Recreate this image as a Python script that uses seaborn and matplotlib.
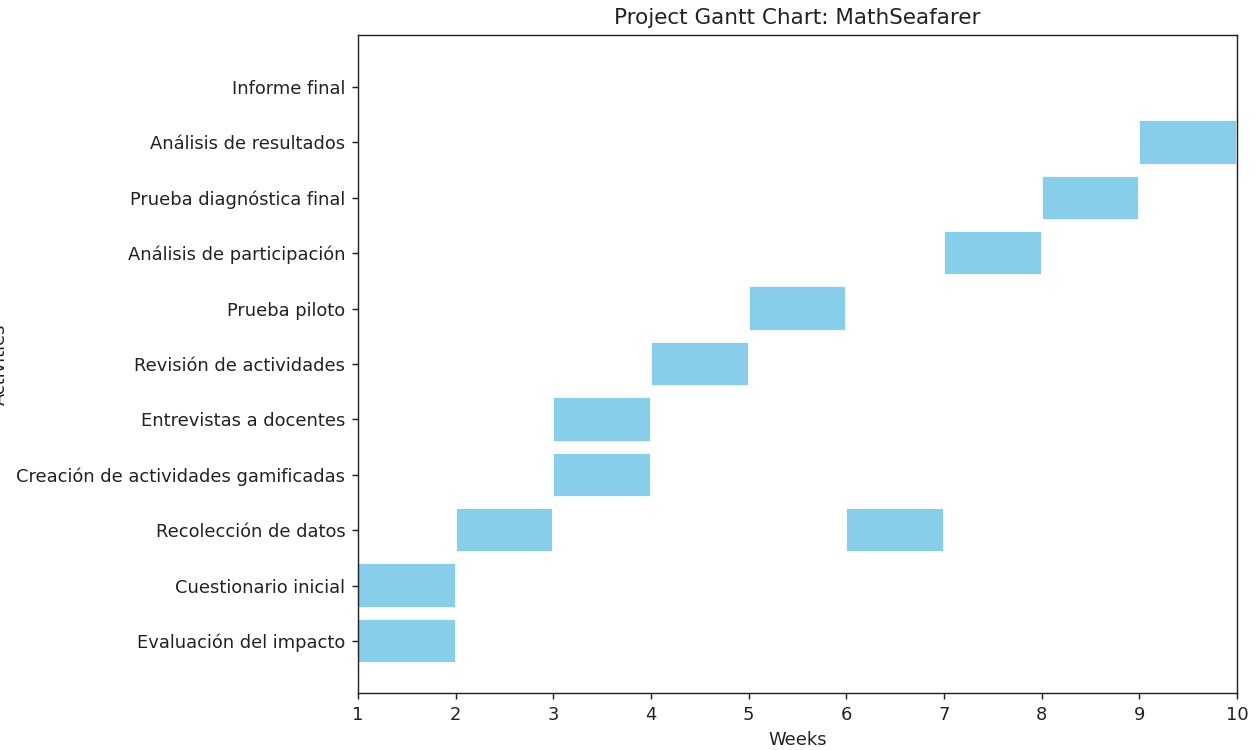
import matplotlib
matplotlib.use('Agg')
import matplotlib.pyplot as plt
import seaborn as sns

# filas del eje y, de abajo hacia arriba
rows = [
    "Evaluación del impacto",
    "Cuestionario inicial",
    "Recolección de datos",
    "Creación de actividades gamificadas",
    "Entrevistas a docentes",
    "Revisión de actividades",
    "Prueba piloto",
    "Análisis de participación",
    "Prueba diagnóstica final",
    "Análisis de resultados",
    "Informe final",
]

# tareas (una fila puede tener varias barras)
tasks = [
    "Evaluación del impacto", "Cuestionario inicial", "Recolección de datos",
    "Creación de actividades gamificadas", "Entrevistas a docentes",
    "Revisión de actividades", "Prueba piloto", "Recolección de datos",
    "Análisis de participación", "Prueba diagnóstica final",
    "Análisis de resultados", "Informe final",
]
start_week = [1, 1, 2, 3, 3, 4, 5, 6, 7, 8, 9, 10]
duration = [1, 1, 1, 1, 1, 1, 1, 1, 1, 1, 1, 1]
week_ticks = [1, 2, 3, 4, 5, 6, 7, 8, 9, 10]

DPI = 129
sns.set_style("ticks")
plt.rcParams['font.family'] = ['DejaVu Sans']
plt.rcParams['axes.edgecolor'] = '#222222'
plt.rcParams['xtick.color'] = '#222222'
plt.rcParams['ytick.color'] = '#222222'
plt.rcParams['text.color'] = '#222222'
plt.rcParams['axes.labelcolor'] = '#222222'

fig, ax = plt.subplots(figsize=(1256 / DPI, 750 / DPI), dpi=DPI)
fig.subplots_adjust(left=358 / 1256, right=1237 / 1256, top=1 - 35 / 750, bottom=1 - 693 / 750)

ypos = [rows.index(t) for t in tasks]
ax.barh(ypos, duration, left=start_week, height=0.8, color="skyblue")

ax.set_yticks(range(len(rows)))
ax.set_yticklabels(rows)
ax.set_xticks(week_ticks)
ax.set_xlim(1, 10)
ax.set_xlabel("Weeks")
ax.set_ylabel("Activities")
ax.set_title("Project Gantt Chart: MathSeafarer")

fig.savefig("out.png", dpi=DPI)
